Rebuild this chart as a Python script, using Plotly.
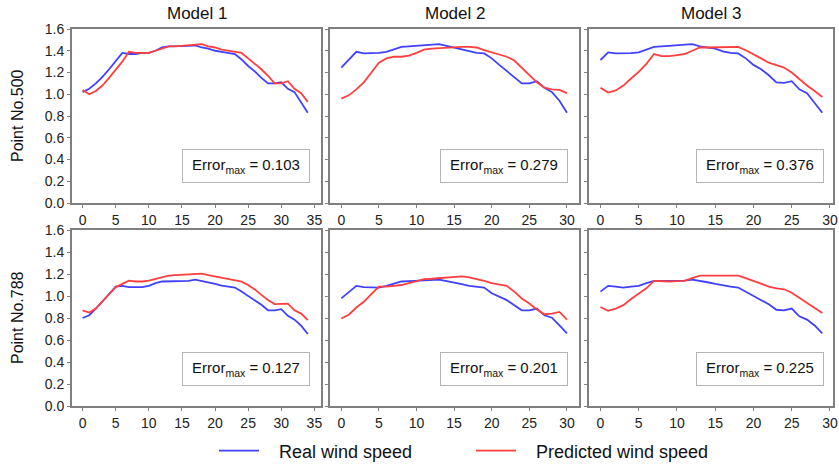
import plotly.graph_objects as go

# ---------------- data ----------------
rows = ["Point No.500", "Point No.788"]
models = ["Model 1", "Model 2", "Model 3"]
errors = [["0.103", "0.279", "0.376"], ["0.127", "0.201", "0.225"]]

real_500_m1 = [1.02, 1.05, 1.10, 1.16, 1.23, 1.30, 1.38, 1.37, 1.37, 1.38, 1.38, 1.40, 1.43, 1.44, 1.44, 1.44,
               1.445, 1.45, 1.43, 1.42, 1.40, 1.39, 1.38, 1.37, 1.32, 1.26, 1.21, 1.15, 1.10, 1.10, 1.11, 1.05,
               1.02, 0.93, 0.83]
pred_500_m1 = [1.04, 1.00, 1.03, 1.08, 1.15, 1.22, 1.30, 1.39, 1.38, 1.38, 1.38, 1.40, 1.42, 1.44, 1.44, 1.445,
               1.45, 1.45, 1.46, 1.44, 1.43, 1.41, 1.40, 1.39, 1.38, 1.33, 1.28, 1.23, 1.17, 1.10, 1.10, 1.12,
               1.05, 1.01, 0.93]
real_500_m2 = [1.245, 1.32, 1.39, 1.375, 1.375, 1.38, 1.39, 1.415, 1.435, 1.44, 1.445, 1.445, 1.45, 1.46, 1.445,
               1.43, 1.415, 1.395, 1.38, 1.375, 1.33, 1.27, 1.215, 1.16, 1.10, 1.10, 1.12, 1.06, 1.02, 0.94, 0.83]
pred_500_m2 = [0.96, 0.99, 1.045, 1.11, 1.20, 1.29, 1.33, 1.345, 1.345, 1.355, 1.38, 1.41, 1.42, 1.425, 1.43,
               1.43, 1.435, 1.435, 1.43, 1.405, 1.385, 1.365, 1.345, 1.31, 1.245, 1.18, 1.11, 1.06, 1.045, 1.04,
               1.01]
real_500_m3 = [1.315, 1.385, 1.375, 1.375, 1.378, 1.385, 1.41, 1.435, 1.44, 1.445, 1.45, 1.452, 1.46, 1.44, 1.43,
               1.42, 1.395, 1.38, 1.375, 1.33, 1.27, 1.23, 1.175, 1.11, 1.105, 1.12, 1.045, 1.01, 0.92, 0.83]
pred_500_m3 = [1.06, 1.015, 1.035, 1.08, 1.145, 1.205, 1.28, 1.37, 1.35, 1.35, 1.36, 1.37, 1.40, 1.43, 1.43,
               1.43, 1.43, 1.43, 1.436, 1.405, 1.37, 1.33, 1.29, 1.265, 1.245, 1.20, 1.14, 1.08, 1.03, 0.975]

real_788_m1 = [0.80, 0.825, 0.885, 0.948, 1.018, 1.086, 1.092, 1.08, 1.077, 1.08, 1.092, 1.117, 1.132, 1.135,
               1.138, 1.138, 1.138, 1.148, 1.137, 1.126, 1.11, 1.095, 1.085, 1.077, 1.04, 1.0, 0.965, 0.92, 0.87,
               0.87, 0.88, 0.82, 0.785, 0.73, 0.655]
pred_788_m1 = [0.87, 0.85, 0.886, 0.948, 1.015, 1.08, 1.11, 1.14, 1.132, 1.132, 1.14, 1.154, 1.17, 1.185, 1.19,
               1.194, 1.194, 1.198, 1.203, 1.19, 1.178, 1.166, 1.154, 1.145, 1.13, 1.10, 1.06, 1.01, 0.963, 0.926,
               0.926, 0.93, 0.87, 0.84, 0.78]
real_788_m2 = [0.978, 1.035, 1.092, 1.08, 1.078, 1.077, 1.092, 1.11, 1.132, 1.135, 1.138, 1.143, 1.148, 1.148,
               1.135, 1.123, 1.108, 1.092, 1.085, 1.077, 1.025, 0.995, 0.963, 0.915, 0.87, 0.87, 0.886, 0.825,
               0.803, 0.732, 0.66]
pred_788_m2 = [0.795, 0.83, 0.895, 0.948, 1.018, 1.086, 1.086, 1.092, 1.10, 1.117, 1.135, 1.154, 1.157, 1.163,
               1.168, 1.172, 1.178, 1.17, 1.155, 1.138, 1.117, 1.105, 1.092, 1.04, 0.978, 0.932, 0.877, 0.834,
               0.84, 0.855, 0.785]
real_788_m3 = [1.04, 1.092, 1.086, 1.077, 1.086, 1.092, 1.117, 1.138, 1.138, 1.138, 1.138, 1.14, 1.148, 1.138,
               1.125, 1.11, 1.095, 1.085, 1.077, 1.04, 1.0, 0.963, 0.925, 0.875, 0.87, 0.886, 0.815, 0.785, 0.732,
               0.66]
pred_788_m3 = [0.90, 0.865, 0.886, 0.917, 0.972, 1.018, 1.07, 1.138, 1.132, 1.132, 1.135, 1.138, 1.163, 1.185,
               1.185, 1.185, 1.185, 1.185, 1.185, 1.163, 1.138, 1.117, 1.086, 1.07, 1.061, 1.03, 0.985, 0.938,
               0.895, 0.846]

real = [[real_500_m1, real_500_m2, real_500_m3], [real_788_m1, real_788_m2, real_788_m3]]
pred = [[pred_500_m1, pred_500_m2, pred_500_m3], [pred_788_m1, pred_788_m2, pred_788_m3]]

x_ticks = [[0, 5, 10, 15, 20, 25, 30, 35], [0, 5, 10, 15, 20, 25, 30], [0, 5, 10, 15, 20, 25, 30]]
y_ticks = [0.0, 0.2, 0.4, 0.6, 0.8, 1.0, 1.2, 1.4, 1.6]

# ---------------- layout geometry ----------------
W, H = 839, 464
col_px = [(72, 321), (330, 579), (589, 833)]
row_px = [(29, 203), (230, 406)]
x_ranges = [[-1.6, 36.0], [-1.5, 31.6], [-1.5, 30.4]]

BLUE = "#4040ff"
RED = "#ff3f3f"
FONT = "Liberation Sans, Arial, sans-serif"

fig = go.Figure()
layout = dict(
    width=W, height=H, margin=dict(l=0, r=0, t=0, b=0, autoexpand=False),
    paper_bgcolor="white", plot_bgcolor="white",
    font=dict(family=FONT, color="#222222"),
    showlegend=True,
)
annotations = []

k = 0
for r in range(2):
    for c in range(3):
        k += 1
        xa = "x" if k == 1 else f"x{k}"
        ya = "y" if k == 1 else f"y{k}"
        xs = list(range(len(real[r][c])))
        fig.add_trace(go.Scatter(x=xs, y=real[r][c], mode="lines", line=dict(color=BLUE, width=1.8),
                                 name="   Real wind speed", legendgroup="real", showlegend=(k == 1),
                                 xaxis=xa, yaxis=ya))
        xs2 = list(range(len(pred[r][c])))
        fig.add_trace(go.Scatter(x=xs2, y=pred[r][c], mode="lines", line=dict(color=RED, width=1.8),
                                 name="   Predicted wind speed", legendgroup="pred", showlegend=(k == 1),
                                 xaxis=xa, yaxis=ya))
        x0, x1 = col_px[c]
        y0, y1 = row_px[r]
        axis_common = dict(showline=True, mirror=True, linecolor="#7f7f7f", linewidth=2,
                           ticks="outside", ticklen=3, tickcolor="#7f7f7f", tickwidth=1,
                           showgrid=False, zeroline=False, automargin=False,
                           tickfont=dict(size=14, color="#222222"))
        layout["xaxis" if k == 1 else f"xaxis{k}"] = dict(
            domain=[x0 / W, x1 / W], range=x_ranges[c], anchor=ya,
            tickvals=x_ticks[c], ticktext=[str(v) for v in x_ticks[c]], **axis_common)
        yax = dict(domain=[(H - y1) / H, (H - y0) / H], range=[0, 1.6], anchor=xa,
                   tickvals=y_ticks, **axis_common)
        if c == 0:
            yax["ticktext"] = [f"{v:.1f}" for v in y_ticks]
        else:
            yax["showticklabels"] = False
        layout["yaxis" if k == 1 else f"yaxis{k}"] = yax
        annotations.append(dict(
            xref=f"{xa} domain", yref=f"{ya} domain", x=0.70, y=0.21,
            xanchor="center", yanchor="middle", showarrow=False,
            text=f"Error<sub>max</sub> = {errors[r][c]}",
            font=dict(size=15, color="#111111", family=FONT),
            bordercolor="#b5b5b5", borderwidth=1, borderpad=5, bgcolor="white",
            width=116, height=22))

for c in range(3):
    x0, x1 = col_px[c]
    annotations.append(dict(xref="paper", yref="paper", x=(x0 + x1) / 2 / W, y=(H - 14) / H,
                            xanchor="center", yanchor="middle", showarrow=False, text=models[c],
                            font=dict(size=17, color="#111111")))
for r in range(2):
    y0, y1 = row_px[r]
    annotations.append(dict(xref="paper", yref="paper", x=17 / W, y=(H - (y0 + y1) / 2) / H,
                            xanchor="center", yanchor="middle", showarrow=False, text=rows[r],
                            textangle=-90, font=dict(size=16, color="#111111")))

layout["annotations"] = annotations
layout["legend"] = dict(orientation="h", x=214 / W, y=(H - 451) / H, xanchor="left", yanchor="middle",
                        font=dict(size=18, color="#111111"), entrywidth=202, bgcolor="rgba(0,0,0,0)",
                        itemwidth=40)
fig.update_layout(**layout)
fig.write_html("out.html", config={"displayModeBar": False},
               post_script="document.body.style.margin='0';")
